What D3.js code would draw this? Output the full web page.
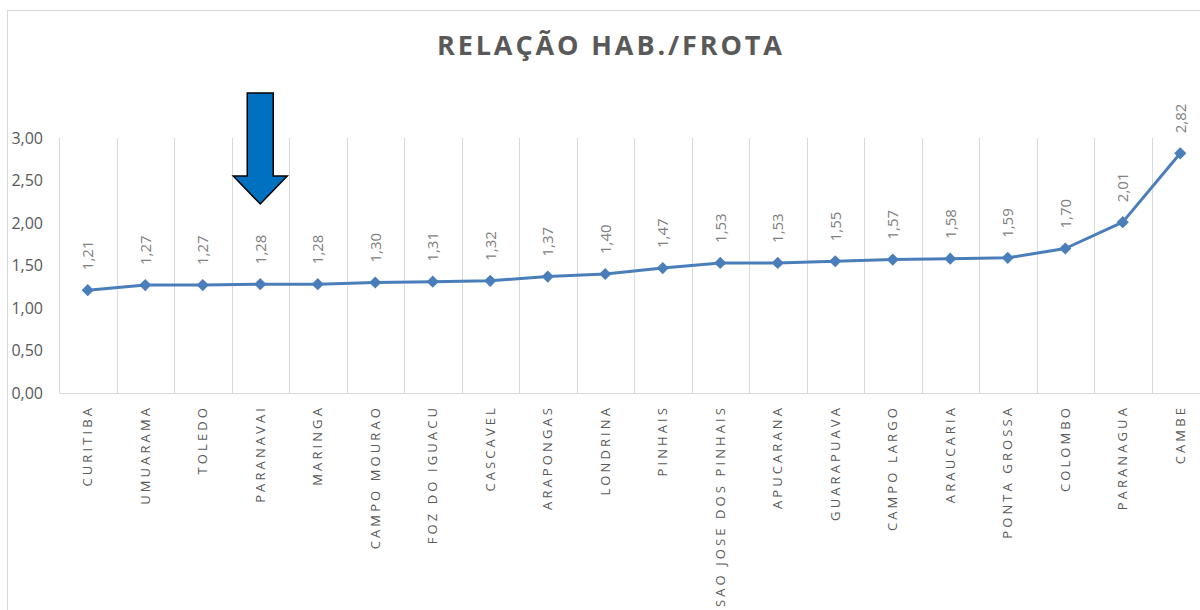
<!DOCTYPE html>
<html>
<head>
<meta charset="utf-8">
<script src="https://cdn.jsdelivr.net/npm/d3@7"></script>
<style>
  html, body { margin: 0; padding: 0; background: #fff; overflow: hidden; }
  svg, svg text { font-family: "Open Sans", "Liberation Sans", sans-serif; }
</style>
</head>
<body>
<div id="chart"></div>
<script>
// Chart data
const cities = [
  'CURITIBA', 'UMUARAMA', 'TOLEDO', 'PARANAVAI', 'MARINGA', 'CAMPO MOURAO',
  'FOZ DO IGUACU', 'CASCAVEL', 'ARAPONGAS', 'LONDRINA', 'PINHAIS',
  'SAO JOSE DOS PINHAIS', 'APUCARANA', 'GUARAPUAVA', 'CAMPO LARGO',
  'ARAUCARIA', 'PONTA GROSSA', 'COLOMBO', 'PARANAGUA', 'CAMBE'
];
const ratios = [
  1.21, 1.27, 1.27, 1.28, 1.28, 1.30, 1.31, 1.32, 1.37, 1.40, 1.47,
  1.53, 1.53, 1.55, 1.57, 1.58, 1.59, 1.70, 2.01, 2.82
];
const yTicks = [0, 0.5, 1, 1.5, 2, 2.5, 3];
const highlighted = 'PARANAVAI';
const title = 'RELAÇÃO HAB./FROTA';

const width = 1200;
const height = 610;
const margin = { top: 138, left: 59, bottom: 217 };
const plotW = 1150;
const plotH = height - margin.top - margin.bottom;

const fmt = (v) => d3.format('.2f')(v).replace('.', ',');

const svg = d3.select('#chart').append('svg').attr('width', width).attr('height', height);

// Chart area border
svg.append('rect')
  .attr('x', 7.5).attr('y', 10.5)
  .attr('width', 1200).attr('height', 620)
  .attr('fill', 'none').attr('stroke', '#d9d9d9');

// Title
svg.append('text')
  .attr('x', 437).attr('y', 55)
  .attr('fill', '#595959')
  .attr('textLength', 345)
  .attr('lengthAdjust', 'spacing')
  .style('font-size', '27px')
  .style('font-weight', 'bold')
  .text(title);

const x = d3.scaleBand().domain(cities).range([margin.left, margin.left + plotW]);
const y = d3.scaleLinear().domain([0, 3]).range([margin.top + plotH, margin.top]);

// Vertical gridlines at category boundaries
const bounds = cities.map((c) => x(c)).concat([x(cities[cities.length - 1]) + x.bandwidth()]);
svg.append('g').selectAll('line').data(bounds).join('line')
  .attr('x1', (d) => Math.round(d) + 0.5).attr('x2', (d) => Math.round(d) + 0.5)
  .attr('y1', y(3)).attr('y2', y(0))
  .attr('stroke', '#d9d9d9').attr('stroke-width', 1);

// Category axis
const xAxis = svg.append('g')
  .attr('transform', `translate(0, ${y(0)})`)
  .call(d3.axisBottom(x).tickSize(0).tickPadding(0))
  .attr('font-family', null);
xAxis.select('.domain').attr('stroke', '#d9d9d9');
xAxis.selectAll('text')
  .attr('fill', '#595959')
  .style('font-size', '13px')
  .style('letter-spacing', '3.1px')
  .attr('text-anchor', 'end')
  .attr('dy', '0.35em')
  .attr('transform', 'translate(0, 12) rotate(-90)');

// Value axis
const yAxis = svg.append('g')
  .attr('transform', `translate(${margin.left}, 0)`)
  .call(d3.axisLeft(y).tickValues(yTicks).tickFormat(fmt).tickSize(0).tickPadding(16))
  .attr('font-family', null);
yAxis.select('.domain').remove();
yAxis.selectAll('text')
  .attr('fill', '#595959')
  .style('font-size', '16px');

// Line
const cx = (c) => x(c) + x.bandwidth() / 2;
const line = d3.line().x((d, i) => cx(cities[i])).y((d) => y(d));
svg.append('path')
  .datum(ratios)
  .attr('d', line)
  .attr('fill', 'none')
  .attr('stroke', '#4a7ebb')
  .attr('stroke-width', 3)
  .attr('stroke-linejoin', 'round');

// Diamond markers
svg.append('g').selectAll('path').data(ratios).join('path')
  .attr('d', d3.symbol().type(d3.symbolDiamond2).size(95))
  .attr('transform', (d, i) => `translate(${cx(cities[i])}, ${y(d)})`)
  .attr('fill', '#4a7ebb');

// Data labels
svg.append('g').selectAll('text').data(ratios).join('text')
  .attr('transform', (d, i) => `translate(${cx(cities[i])}, ${y(d) - 20}) rotate(-90)`)
  .attr('dy', '0.35em')
  .attr('fill', '#808080')
  .style('font-size', '15px')
  .text(fmt);

// Arrow pointing at the highlighted city
const ax = cx(highlighted);
const arrow = d3.path();
arrow.moveTo(ax - 13, 93);
arrow.lineTo(ax + 13, 93);
arrow.lineTo(ax + 13, 176);
arrow.lineTo(ax + 27, 176);
arrow.lineTo(ax, 204);
arrow.lineTo(ax - 27, 176);
arrow.lineTo(ax - 13, 176);
arrow.closePath();
svg.append('path')
  .attr('d', arrow.toString())
  .attr('fill', '#0070c0')
  .attr('stroke', '#000')
  .attr('stroke-width', 1.5);
</script>
</body>
</html>
